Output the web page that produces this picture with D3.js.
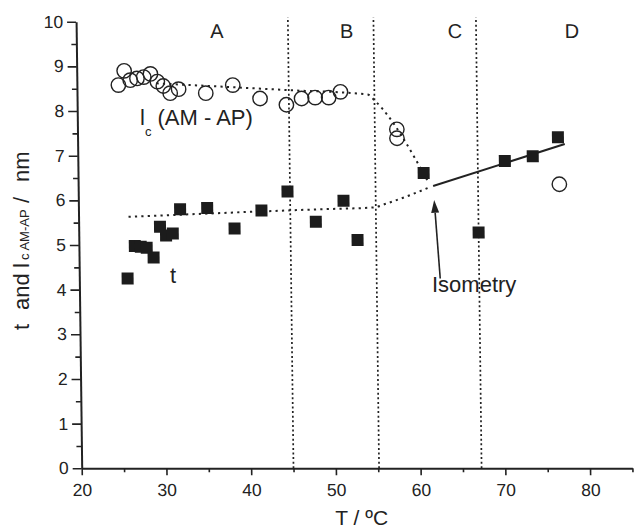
<!DOCTYPE html>
<html>
<head>
<meta charset="utf-8">
<script src="https://cdn.jsdelivr.net/npm/d3@7/dist/d3.min.js"></script>
<style>
  html, body { margin: 0; padding: 0; background: #fff; }
  svg { display: block; font-family: 'Liberation Sans', Arial, sans-serif; }
  .axis text { font-size: 17.5px; fill: #222; font-family: 'Liberation Sans', Arial, sans-serif; }
  .axis path, .axis line { stroke: #222; }
</style>
</head>
<body>
<svg id="chart" width="634" height="531"></svg>
<script>
// lc (AM - AP), open circles
const lcTemp = [24.9, 25.6, 26.3, 27.1, 27.9, 28.7, 29.5, 30.2, 31.0, 32.0, 35.2, 38.4, 41.6, 44.7, 46.5, 48.1, 49.7, 51.1, 57.7, 57.7, 76.8];
const lcValues = [8.58, 8.90, 8.69, 8.73, 8.76, 8.83, 8.66, 8.56, 8.40, 8.49, 8.40, 8.58, 8.28, 8.14, 8.28, 8.30, 8.30, 8.43, 7.59, 7.39, 6.36];

// t, filled squares
const tTemp = [25.7, 26.6, 27.3, 28.0, 28.8, 29.6, 30.3, 31.1, 32.0, 35.2, 38.4, 41.6, 44.7, 48.0, 51.3, 52.9, 60.8, 67.2, 70.4, 73.7, 76.7];
const tValues = [4.25, 4.98, 4.96, 4.94, 4.72, 5.41, 5.21, 5.26, 5.80, 5.83, 5.37, 5.77, 6.20, 5.52, 5.99, 5.11, 6.61, 5.28, 6.88, 6.99, 7.41];

// guide lines
const lcGuide = [[29.4, 8.62], [44.7, 8.47], [54.3, 8.37], [55.2, 8.22], [61.3, 6.42]];
const tGuideDotted = [[25.9, 5.63], [48.5, 5.80], [54.8, 5.84], [56.4, 5.93], [59.2, 6.12], [61.7, 6.31]];
const tGuideSolid = [[61.9, 6.32], [77.5, 7.26]];
const isometryArrow = [[62.6, 4.25], [62.0, 6.01]];

const boundaries = [45, 55.1, 67.2];
const regionLabels = ['A', 'B', 'C', 'D'];
const regionCentres = [36.6, 51.9, 64.7, 78.5];

const xTickLabels = [20, 30, 40, 50, 60, 70, 80];
const yTickLabels = [0, 1, 2, 3, 4, 5, 6, 7, 8, 9, 10];

const ink = '#222';
const svg = d3.select('#chart');

const x = d3.scaleLinear().domain([20, 85]).range([81.7, 632.4]);
const y = d3.scaleLinear().domain([0, 10]).range([468.3, 21.7]);

// the scan is slightly sheared: the top leans left
const base = y(0);
const plot = svg.append('g')
  .attr('transform', `translate(0,${base}) skewX(0.72) translate(0,${-base})`);

// axes
const xMajor = plot.append('g').attr('class', 'axis')
  .attr('transform', `translate(0,${base})`)
  .call(d3.axisBottom(x).tickValues(xTickLabels).tickSize(7).tickPadding(8).tickSizeOuter(0));
xMajor.select('.domain').attr('stroke-width', 2);
xMajor.selectAll('.tick line').attr('stroke-width', 1.6);

const xMinor = plot.append('g').attr('class', 'axis')
  .attr('transform', `translate(0,${base})`)
  .call(d3.axisBottom(x).tickValues(d3.range(25, 86, 10)).tickSize(4).tickFormat(''));
xMinor.select('.domain').remove();
xMinor.selectAll('.tick line').attr('stroke-width', 1.6);

const yMajor = plot.append('g').attr('class', 'axis')
  .attr('transform', `translate(${x(20)},0)`)
  .call(d3.axisLeft(y).tickValues(yTickLabels).tickSize(9).tickPadding(4).tickSizeOuter(0));
yMajor.select('.domain').attr('stroke-width', 2);
yMajor.selectAll('.tick line').attr('stroke-width', 1.6);

const yMinor = plot.append('g').attr('class', 'axis')
  .attr('transform', `translate(${x(20)},0)`)
  .call(d3.axisLeft(y).tickValues(d3.range(0.5, 10, 1)).tickSize(5).tickFormat(''));
yMinor.select('.domain').remove();
yMinor.selectAll('.tick line').attr('stroke-width', 1.6);

// region boundaries
plot.selectAll('line.boundary')
  .data(boundaries)
  .join('line')
  .attr('class', 'boundary')
  .attr('x1', (d) => x(d)).attr('x2', (d) => x(d))
  .attr('y1', y(0)).attr('y2', y(10.1))
  .attr('stroke', ink)
  .attr('stroke-width', 1.7)
  .attr('stroke-dasharray', '2,2.6');

plot.selectAll('text.region')
  .data(regionLabels)
  .join('text')
  .attr('class', 'region')
  .attr('x', (d, i) => x(regionCentres[i]))
  .attr('y', y(9.63))
  .attr('text-anchor', 'middle')
  .attr('font-size', 20)
  .attr('fill', ink)
  .text((d) => d);

// guide lines
const line = d3.line().x((d) => x(d[0])).y((d) => y(d[1])).curve(d3.curveMonotoneX);

plot.append('path').datum(lcGuide)
  .attr('d', line).attr('fill', 'none').attr('stroke', ink)
  .attr('stroke-width', 2).attr('stroke-dasharray', '2.2,4.2');

plot.append('path').datum(tGuideDotted)
  .attr('d', line).attr('fill', 'none').attr('stroke', ink)
  .attr('stroke-width', 2).attr('stroke-dasharray', '2.2,4.2');

plot.append('path').datum(tGuideSolid)
  .attr('d', d3.line().x((d) => x(d[0])).y((d) => y(d[1])))
  .attr('fill', 'none').attr('stroke', ink).attr('stroke-width', 2);

// isometry arrow
const [tail, tip] = isometryArrow.map((d) => [x(d[0]), y(d[1])]);
const dx = tip[0] - tail[0];
const dy = tip[1] - tail[1];
const len = Math.hypot(dx, dy);
const ux = dx / len, uy = dy / len;
const headLen = 13, headHalf = 4;
const neck = [tip[0] - ux * headLen, tip[1] - uy * headLen];

plot.append('line')
  .attr('x1', tail[0]).attr('y1', tail[1])
  .attr('x2', neck[0]).attr('y2', neck[1])
  .attr('stroke', ink).attr('stroke-width', 1.6);

plot.append('path')
  .attr('d', `M${tip[0]},${tip[1]}L${neck[0] - uy * headHalf},${neck[1] + ux * headHalf}L${neck[0] + uy * headHalf},${neck[1] - ux * headHalf}Z`)
  .attr('fill', ink);

// markers
plot.selectAll('circle.lc')
  .data(lcTemp)
  .join('circle')
  .attr('class', 'lc')
  .attr('cx', (d) => x(d))
  .attr('cy', (d, i) => y(lcValues[i]))
  .attr('r', 7.2)
  .attr('fill', 'none')
  .attr('stroke', ink)
  .attr('stroke-width', 1.4);

plot.selectAll('rect.t')
  .data(tTemp)
  .join('rect')
  .attr('class', 't')
  .attr('x', (d) => x(d) - 6)
  .attr('y', (d, i) => y(tValues[i]) - 6)
  .attr('width', 12)
  .attr('height', 12)
  .attr('fill', '#1c1c1c');

// annotations and titles
const lcLabel = svg.append('text')
  .attr('x', 140).attr('y', 125)
  .attr('font-size', 22).attr('fill', ink);
lcLabel.append('tspan').text('l');
lcLabel.append('tspan').attr('dy', 11).attr('font-size', 13).text('c');
lcLabel.append('tspan').attr('dy', -11).text(' (AM - AP)');

svg.append('text')
  .attr('x', 170).attr('y', 283)
  .attr('font-size', 22).attr('fill', ink)
  .text('t');

svg.append('text')
  .attr('x', 432).attr('y', 291.5)
  .attr('font-size', 22).attr('fill', ink)
  .text('Isometry');

svg.append('text')
  .attr('x', 361.7).attr('y', 525)
  .attr('text-anchor', 'middle')
  .attr('font-size', 21).attr('fill', ink)
  .text('T / ºC');

const yTitle = svg.append('text')
  .attr('transform', 'translate(29,332) rotate(-90)')
  .attr('font-size', 22).attr('fill', ink);
yTitle.append('tspan').attr('x', 2).text('t');
yTitle.append('tspan').attr('x', 22).text('and');
yTitle.append('tspan').attr('x', 64).text('l');
yTitle.append('tspan').attr('x', 72).attr('font-size', 13).text('c AM-AP');
yTitle.append('tspan').attr('x', 129).text('/');
yTitle.append('tspan').attr('x', 150).text('nm');
</script>
</body>
</html>
